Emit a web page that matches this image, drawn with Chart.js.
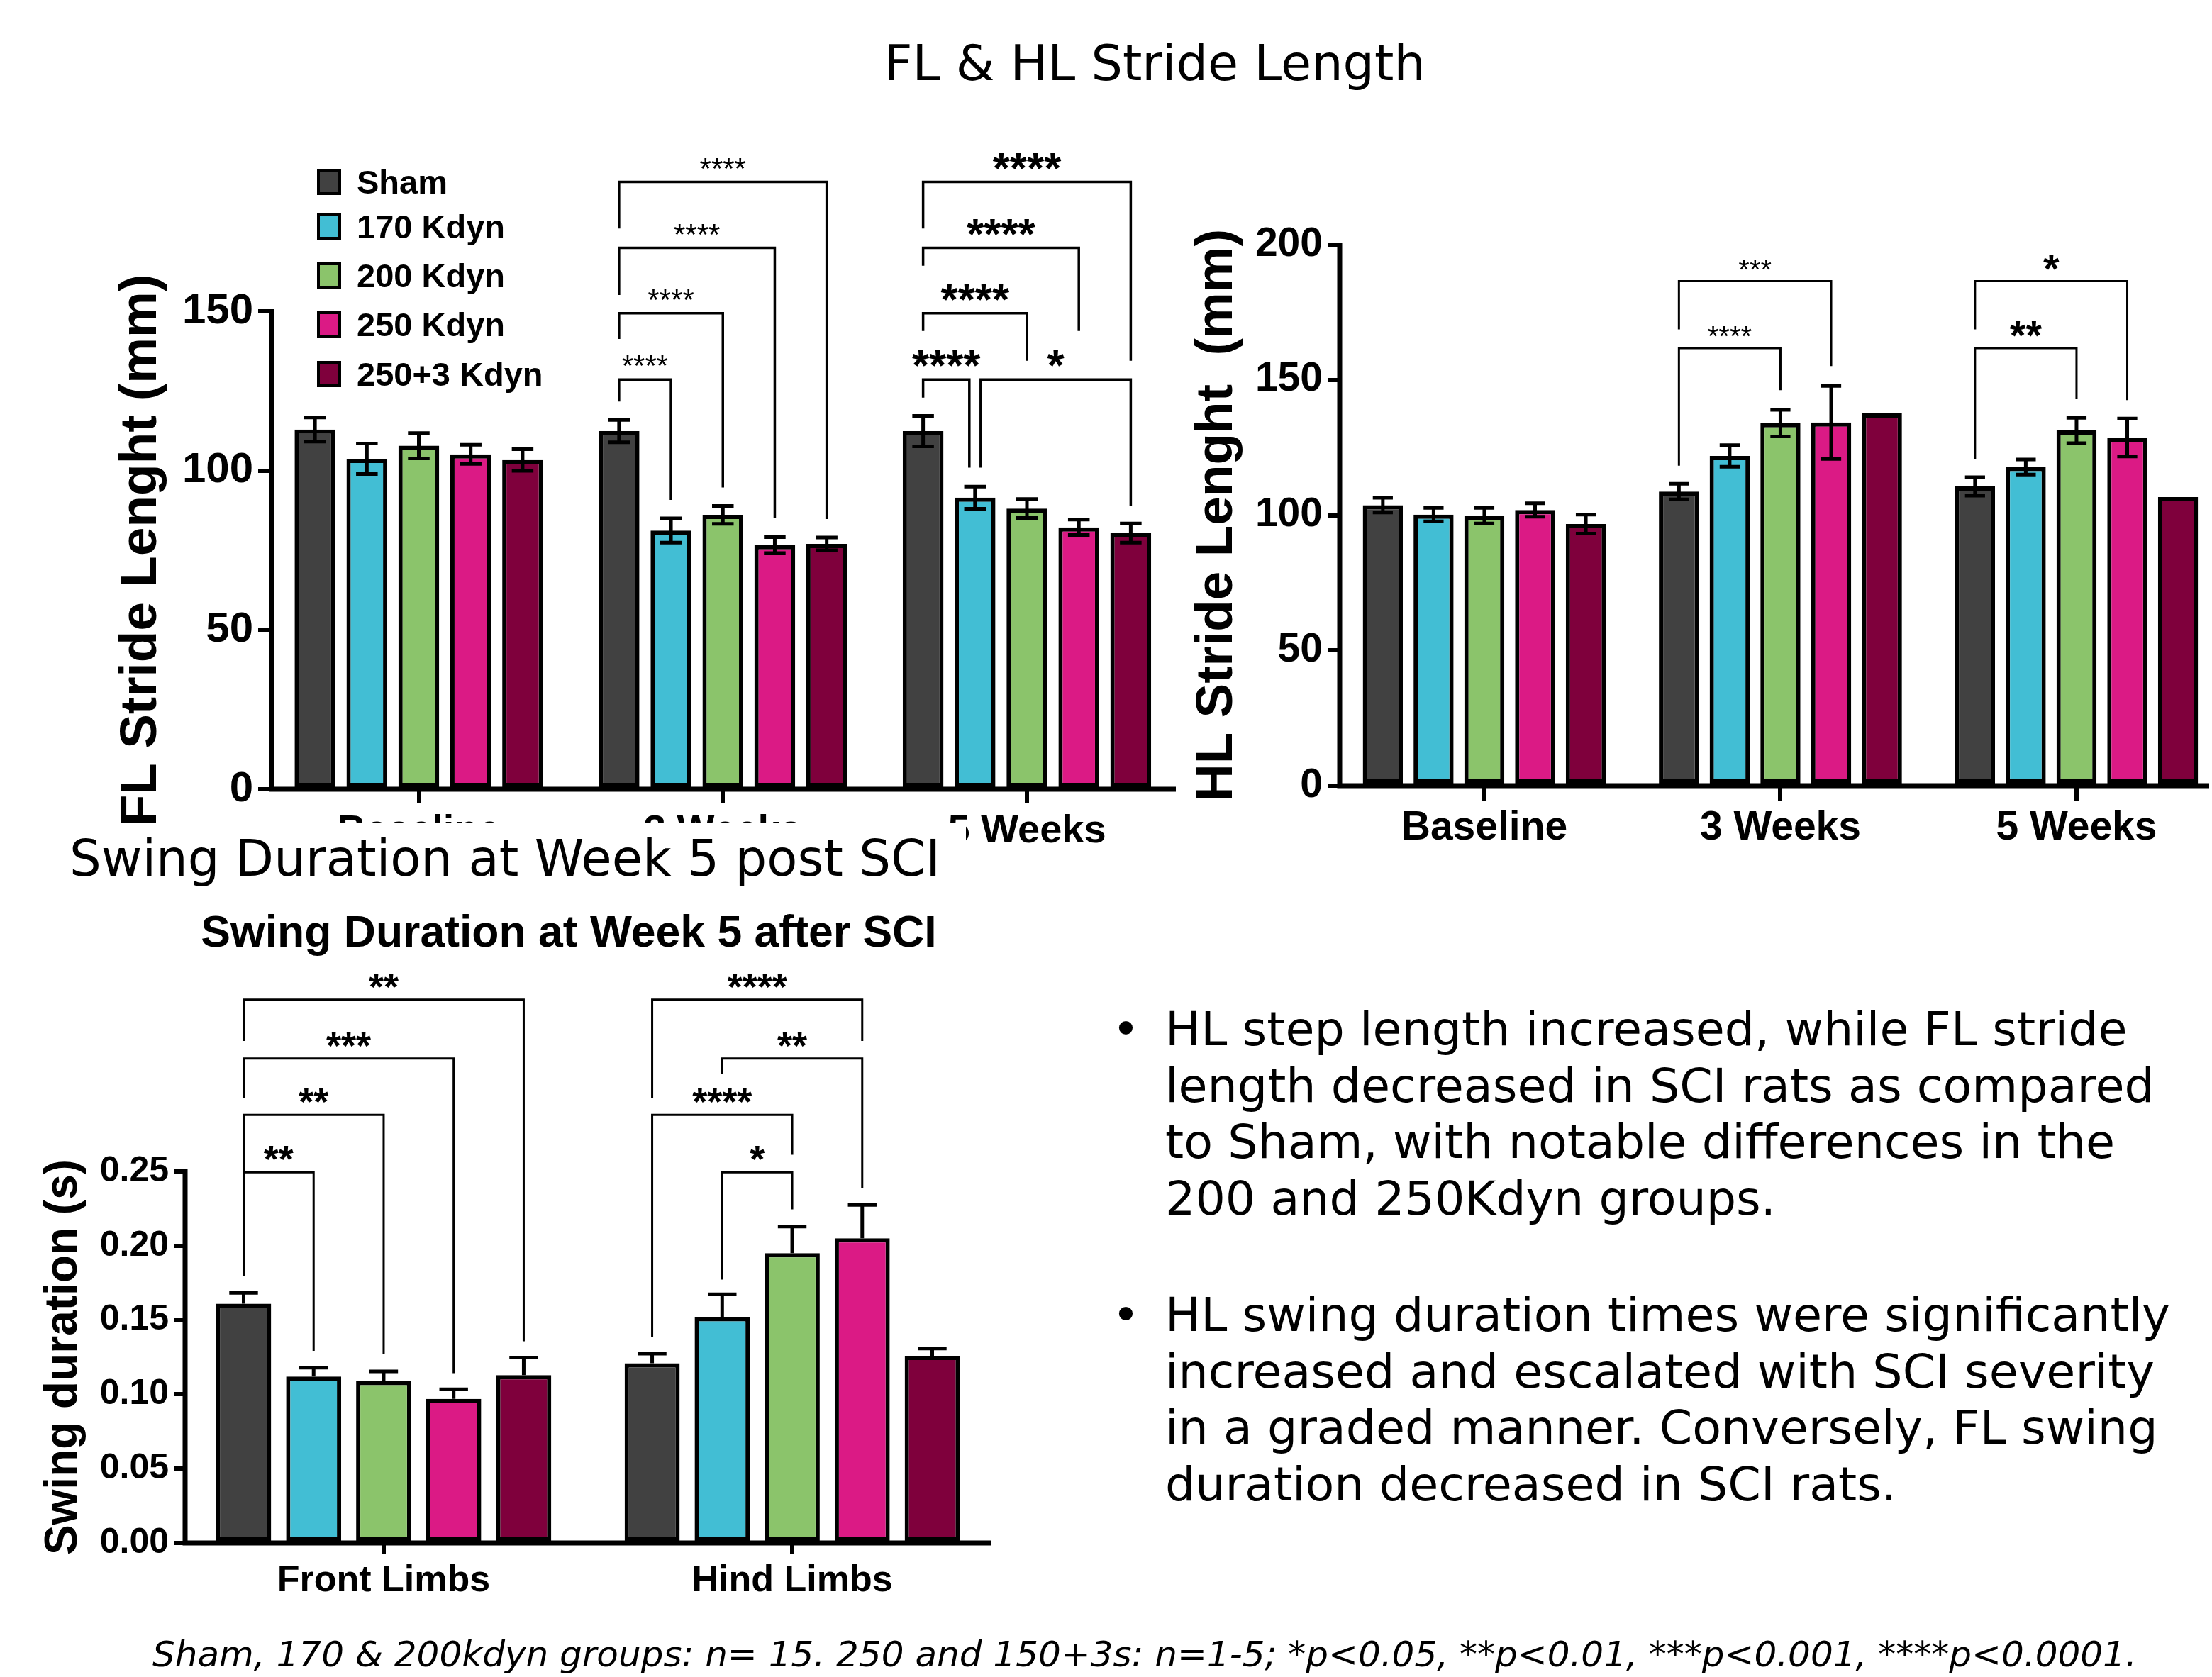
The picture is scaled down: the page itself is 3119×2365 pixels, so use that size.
<!DOCTYPE html>
<html><head><meta charset="utf-8">
<script src="https://cdn.jsdelivr.net/npm/chart.js@4.4.1/dist/chart.umd.min.js"></script>
<style>
html,body{margin:0;padding:0;background:#fff;}
body{width:3119px;height:2365px;position:relative;overflow:hidden;}
canvas{position:absolute;}
.t{position:absolute;white-space:nowrap;color:#000;z-index:5;}
.slide{font-family:"DejaVu Sans",Verdana,sans-serif;}
.leg{position:absolute;font-family:"Liberation Sans",Arial,sans-serif;font-weight:bold;font-size:47px;line-height:37px;white-space:nowrap;z-index:5;}
.sq{position:absolute;width:34px;height:37px;box-sizing:border-box;border:4px solid #000;z-index:5;}
</style></head><body>
<canvas id="fl" width="1680" height="1260" style="left:0;top:0;width:1680px;height:1260px"></canvas>
<canvas id="hl" width="1459" height="1260" style="left:1660px;top:0;width:1459px;height:1260px"></canvas>
<canvas id="sw" width="1450" height="1115" style="left:0;top:1250px;width:1450px;height:1115px"></canvas>

<div class="t slide" style="left:828px;top:49px;width:1600px;text-align:center;font-size:70px;line-height:80px">FL &amp; HL Stride Length</div>
<div class="t slide" style="left:0;top:1161px;width:1264px;height:100px;padding-left:98px;background:#fff;font-size:70.5px;line-height:100px">Swing Duration at Week 5 post SCI</div>
<div class="t" style="left:202px;top:1282px;width:1200px;text-align:center;font-family:'Liberation Sans',Arial,sans-serif;font-weight:bold;font-size:62.5px;line-height:62px">Swing Duration at Week 5 after SCI</div>

<div class="t slide" style="left:1568px;top:1412px;font-size:66px;line-height:79.5px">•</div>
<div class="t slide" style="left:1643px;top:1412px;font-size:66.7px;line-height:79.5px">HL step length increased, while FL stride<br>length decreased in SCI rats as compared<br>to Sham, with notable differences in the<br>200 and 250Kdyn groups.</div>
<div class="t slide" style="left:1568px;top:1815px;font-size:66px;line-height:79.5px">•</div>
<div class="t slide" style="left:1643px;top:1815px;font-size:66.7px;line-height:79.5px">HL swing duration times were significantly<br>increased and escalated with SCI severity<br>in a graded manner. Conversely, FL swing<br>duration decreased in SCI rats.</div>

<div class="t slide" style="left:215px;top:2303px;font-size:50px;line-height:60px;font-style:italic">Sham, 170 &amp; 200kdyn groups: n= 15. 250 and 150+3s: n=1-5; *p&lt;0.05, **p&lt;0.01, ***p&lt;0.001, ****p&lt;0.0001.</div>

<div id="legend"></div>

<script>
// ---------- data ----------
const strideGroups = ['Baseline', '3 Weeks', '5 Weeks'];
const swingGroups = ['Front Limbs', 'Hind Limbs'];
const seriesNames = ['Sham', '170 Kdyn', '200 Kdyn', '250 Kdyn', '250+3 Kdyn'];

// FL stride length (mm), per series across Baseline / 3 Weeks / 5 Weeks
const flSham = [112.9, 112.4, 112.4];
const fl170  = [103.7, 81.2, 91.5];
const fl200  = [107.8, 86.1, 88.1];
const fl250  = [105.1, 76.6, 82.2];
const fl2503 = [103.3, 77.0, 80.4];
const flShamErr = [3.8, 3.5, 4.8];
const fl170Err  = [4.8, 3.8, 3.5];
const fl200Err  = [4.0, 2.8, 3.0];
const fl250Err  = [3.0, 2.5, 2.4];
const fl2503Err = [3.4, 2.0, 3.0];

// HL stride length (mm)
const hlSham = [103.7, 108.7, 110.6];
const hl170  = [100.2, 121.9, 117.8];
const hl200  = [99.8, 134.0, 131.3];
const hl250  = [101.9, 134.3, 128.7];
const hl2503 = [96.7, 137.6, 106.7];
const hlShamErr = [2.7, 2.9, 3.4];
const hl170Err  = [2.5, 4.0, 2.8];
const hl200Err  = [2.9, 4.9, 4.7];
const hl250Err  = [2.5, 13.5, 7.0];
const hl2503Err = [3.5, null, null];

// Swing duration (s), Front Limbs / Hind Limbs
const swSham = [0.161, 0.121];
const sw170  = [0.112, 0.152];
const sw200  = [0.109, 0.195];
const sw250  = [0.097, 0.205];
const sw2503 = [0.113, 0.126];
const swShamErr = [0.0073, 0.0064];
const sw170Err  = [0.0060, 0.0153];
const sw200Err  = [0.0064, 0.0179];
const sw250Err  = [0.0064, 0.0224];
const sw2503Err = [0.0118, 0.0048];

// tick values / labels
const flTicks = [0, 50, 100, 150];
const hlTicks = [0, 50, 100, 150, 200];
const swTicks = [0, 0.05, 0.10, 0.15, 0.20, 0.25];
const swTickLabels = ['0.00', '0.05', '0.10', '0.15', '0.20', '0.25'];

// significance brackets: [group, fromSeries, toSeries, lineValue, leftLegEnd, rightLegEnd, stars]
const flBrackets = [
  [1, 0, 1, 128.6, 121.7, 90.8, '****'],
  [1, 0, 2, 149.4, 141.3, 94.7, '****'],
  [1, 0, 3, 169.9, 155.1, 85.1, '****'],
  [1, 0, 4, 190.6, 176.0, 84.8, '****'],
  [2, 0, 1, 128.6, 122.9, 100.9, '****'],
  [2, 0, 2, 149.4, 143.8, 134.5, '****'],
  [2, 0, 3, 169.9, 164.3, 143.8, '****'],
  [2, 0, 4, 190.6, 176.0, 134.5, '****'],
  [2, 1, 4, 128.6, 100.9, 89.0, '*']
];
const hlBrackets = [
  [1, 0, 2, 161.7, 118.3, 146.2, '****'],
  [1, 0, 3, 186.5, 168.7, 155.1, '***'],
  [2, 0, 2, 161.7, 120.6, 142.9, '**'],
  [2, 0, 3, 186.5, 168.7, 142.5, '*']
];
const swBrackets = [
  [0, 0, 1, 0.2494, 0.1798, 0.1293, '**'],
  [0, 0, 2, 0.2880, 0.2180, 0.1270, '**'],
  [0, 0, 3, 0.3260, 0.2995, 0.1143, '***'],
  [0, 0, 4, 0.3656, 0.3378, 0.1357, '**'],
  [1, 1, 2, 0.2494, 0.1772, 0.2245, '*'],
  [1, 0, 2, 0.2880, 0.1383, 0.2612, '****'],
  [1, 1, 3, 0.3260, 0.3155, 0.2388, '**'],
  [1, 0, 3, 0.3656, 0.2995, 0.3378, '****']
];

// ---------- styles ----------
const seriesColors = ['#414141', '#42BED4', '#8BC46B', '#DB1A85', '#7F003C'];
const FONT = '"Liberation Sans", Arial, sans-serif';
Chart.defaults.color = '#000';
Chart.defaults.font.family = FONT;

// legend (HTML)
(function () {
  const tops = [238, 301, 370, 439, 509];
  const box = document.getElementById('legend');
  seriesNames.forEach((n, i) => {
    const s = document.createElement('div');
    s.className = 'sq';
    s.style.left = '447px'; s.style.top = tops[i] + 'px';
    s.style.background = seriesColors[i];
    box.appendChild(s);
    const t = document.createElement('div');
    t.className = 'leg';
    t.style.left = '503px'; t.style.top = tops[i] + 'px';
    t.textContent = n;
    box.appendChild(t);
  });
})();

const axisLinePlugin = {
  id: 'axisLines',
  beforeDatasetsDraw(chart) {
    const { ctx, chartArea: a } = chart;
    ctx.save();
    ctx.strokeStyle = '#000'; ctx.lineWidth = 7; ctx.lineCap = 'butt';
    ctx.beginPath();
    ctx.moveTo(a.left, a.top - 3); ctx.lineTo(a.left, a.bottom + 3.5);
    ctx.moveTo(a.left - 3.5, a.bottom); ctx.lineTo(a.right, a.bottom);
    ctx.stroke();
    ctx.restore();
  }
};

function errorBarPlugin(errSets, o) {
  return {
    id: 'errbars',
    afterDatasetsDraw(chart) {
      const ctx = chart.ctx, ys = chart.scales.y;
      ctx.save();
      ctx.strokeStyle = '#000'; ctx.lineWidth = o.lw; ctx.lineCap = 'butt';
      chart.data.datasets.forEach((ds, di) => {
        const meta = chart.getDatasetMeta(di);
        meta.data.forEach((bar, i) => {
          const e = errSets[di][i];
          if (e == null) return;
          const v = ds.data[i].y;
          const yt = ys.getPixelForValue(v + e);
          const yb = ys.getPixelForValue(o.twoSided ? v - e : v);
          const hw = bar.width * o.cap / 2;
          ctx.beginPath();
          ctx.moveTo(bar.x, yt); ctx.lineTo(bar.x, yb);
          ctx.moveTo(bar.x - hw, yt); ctx.lineTo(bar.x + hw, yt);
          if (o.twoSided) { ctx.moveTo(bar.x - hw, yb); ctx.lineTo(bar.x + hw, yb); }
          ctx.stroke();
        });
      });
      ctx.restore();
    }
  };
}

function bracketPlugin(list, o) {
  return {
    id: 'brackets',
    afterDatasetsDraw(chart) {
      const ctx = chart.ctx, ys = chart.scales.y;
      const rightEnds = new Set(list.map(b => b[0] + ':' + b[2]));
      const leftEnds = new Set(list.map(b => b[0] + ':' + b[1]));
      ctx.save();
      ctx.strokeStyle = '#000'; ctx.fillStyle = '#000';
      ctx.lineWidth = o.lw; ctx.lineJoin = 'miter'; ctx.lineCap = 'butt';
      list.forEach(([g, a, b, yl, ya, yb, txt]) => {
        const ea = chart.getDatasetMeta(a).data[g];
        const eb = chart.getDatasetMeta(b).data[g];
        let xa = ea.x, xb = eb.x;
        if (rightEnds.has(g + ':' + a)) xa += o.shift;
        if (leftEnds.has(g + ':' + b)) xb -= o.shift;
        const py = ys.getPixelForValue(yl);
        ctx.beginPath();
        ctx.moveTo(xa, ys.getPixelForValue(ya));
        ctx.lineTo(xa, py); ctx.lineTo(xb, py);
        ctx.lineTo(xb, ys.getPixelForValue(yb));
        ctx.stroke();
        const f = o.fonts[g];
        ctx.font = f.weight + ' ' + f.size + 'px ' + FONT;
        ctx.textAlign = 'center'; ctx.textBaseline = 'alphabetic';
        const m = ctx.measureText(txt);
        ctx.fillText(txt, (xa + xb) / 2, py - o.gap - m.actualBoundingBoxDescent);
      });
      ctx.restore();
    }
  };
}

function barChart(id, p) {
  const datasets = p.series.map((vals, si) => ({
    label: seriesNames[si],
    data: vals.map((v, gi) => ({ x: gi, y: v })),
    backgroundColor: seriesColors[si],
    borderColor: '#000',
    borderWidth: p.bw,
    borderSkipped: false,
    categoryPercentage: p.cat,
    barPercentage: p.bar
  }));
  return new Chart(document.getElementById(id), {
    type: 'bar',
    data: { datasets },
    plugins: [axisLinePlugin, errorBarPlugin(p.errs, p.err), bracketPlugin(p.brackets, p.brk)],
    options: {
      responsive: false, animation: false, events: [],
      layout: { padding: p.pad },
      plugins: { legend: { display: false }, tooltip: { enabled: false } },
      scales: {
        x: {
          type: 'linear', min: p.xMin, max: p.xMax, offset: false, bounds: 'data',
          afterBuildTicks: s => { s.ticks = p.groups.map((_, i) => ({ value: i })); },
          ticks: {
            callback: (v, i) => p.groups[i],
            font: { family: FONT, size: p.xFont, weight: 'bold', lineHeight: 1 },
            color: '#000', padding: p.xPad, maxRotation: 0, minRotation: 0, autoSkip: false
          },
          grid: { offset: false, drawOnChartArea: false, drawTicks: true, tickLength: p.xTick, lineWidth: 6, tickWidth: 6, color: '#000' },
          border: { display: false },
          afterFit: s => { s.height = 100; }
        },
        y: {
          min: 0, max: p.yMax,
          afterBuildTicks: s => { s.ticks = p.yTicks.map(v => ({ value: v })); },
          ticks: {
            callback: (v, i) => p.yLabels ? p.yLabels[i] : String(p.yTicks[i]),
            font: { family: FONT, size: p.yFont, weight: 'bold' },
            color: '#000', padding: p.yPad
          },
          grid: { drawOnChartArea: false, drawTicks: true, tickLength: p.yTick, lineWidth: 6, tickWidth: 6, color: '#000' },
          border: { display: false },
          title: {
            display: true, text: p.yTitle, color: '#000', padding: 0,
            font: { family: FONT, size: p.titleFont, weight: 'bold', lineHeight: 1 }
          },
          afterFit: s => { s.width = p.yW; }
        }
      }
    }
  });
}

barChart('fl', {
  groups: strideGroups,
  series: [flSham, fl170, fl200, fl250, fl2503],
  errs: [flShamErr, fl170Err, fl200Err, fl250Err, fl2503Err],
  brackets: flBrackets,
  err: { lw: 5, cap: 0.53, twoSided: true },
  brk: { lw: 3.5, gap: 18, shift: 8, fonts: [{ size: 42, weight: 'normal' }, { size: 42, weight: 'normal' }, { size: 62, weight: 'bold' }] },
  bw: 6, cat: 0.8536, bar: 0.786,
  pad: { left: 163, right: 22, top: 439, bottom: 47 },
  yW: 220, xMin: -0.484, xMax: 2.4898,
  yMax: 150, yTicks: flTicks,
  yFont: 60, yPad: 7, yTick: 19,
  xFont: 56, xPad: 12, xTick: 20,
  yTitle: 'FL Stride Lenght (mm)', titleFont: 73
});

barChart('hl', {
  groups: strideGroups,
  series: [hlSham, hl170, hl200, hl250, hl2503],
  errs: [hlShamErr, hl170Err, hl200Err, hl250Err, hl2503Err],
  brackets: hlBrackets,
  err: { lw: 5, cap: 0.5, twoSided: true },
  brk: { lw: 3, gap: 16, shift: 8, fonts: [{ size: 40, weight: 'normal' }, { size: 40, weight: 'normal' }, { size: 58, weight: 'bold' }] },
  bw: 6, cat: 0.857, bar: 0.789,
  pad: { left: 20, right: 4, top: 345, bottom: 52 },
  yW: 209, xMin: -0.4885, xMax: 2.448,
  yMax: 200, yTicks: hlTicks,
  yFont: 57, yPad: 7, yTick: 17,
  xFont: 57, xPad: 11, xTick: 21,
  yTitle: 'HL Stride Lenght  (mm)', titleFont: 73
});

barChart('sw', {
  groups: swingGroups,
  series: [swSham, sw170, sw200, sw250, sw2503],
  errs: [swShamErr, sw170Err, sw200Err, sw250Err, sw2503Err],
  brackets: swBrackets,
  err: { lw: 5, cap: 0.52, twoSided: false },
  brk: { lw: 3, gap: 16, shift: 8, fonts: [{ size: 54, weight: 'bold' }, { size: 54, weight: 'bold' }] },
  bw: 6, cat: 0.857, bar: 0.787,
  pad: { left: 58, right: 53, top: 402, bottom: 89 },
  yW: 203, xMin: -0.486, xMax: 1.486,
  yMax: 0.25, yTicks: swTicks, yLabels: swTickLabels,
  yFont: 50, yPad: 8, yTick: 15,
  xFont: 52, xPad: 13, xTick: 15,
  yTitle: 'Swing duration (s)', titleFont: 64
});
</script>
</body></html>
